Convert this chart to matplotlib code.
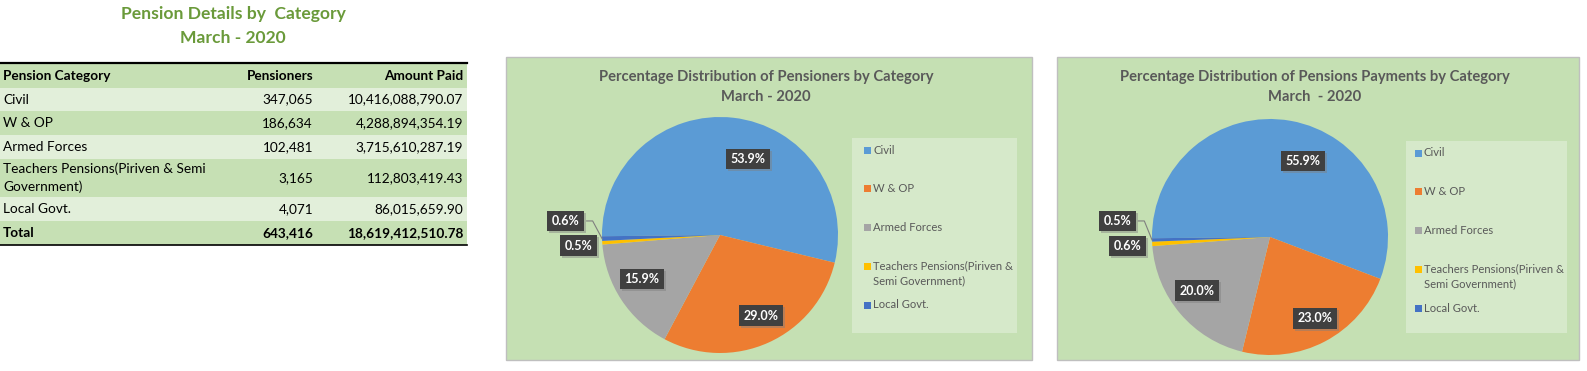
import matplotlib.pyplot as plt
from matplotlib.patches import Rectangle
import numpy as np

plt.rcParams['font.family'] = ['Lato', 'DejaVu Sans']

# data from the table
categories = ['Civil', 'W & OP', 'Armed Forces',
              'Teachers Pensions(Piriven & Semi Government)', 'Local Govt.']
pensioners = [347065, 186634, 102481, 3165, 4071]
amount_paid = [10416088790.07, 4288894354.19, 3715610287.19, 112803419.43, 86015659.90]
colors = ['#5B9BD5', '#ED7D31', '#A5A5A5', '#FFC000', '#4472C4']

W, H = 1587, 371
fig = plt.figure(figsize=(W / 100, H / 100), dpi=100)
ax = fig.add_axes([0, 0, 1, 1])


def Y(py):
    # pixel row (from top) -> data y
    return H - py


# ---------------- table ----------------
green_title = '#6A9A3A'
ax.text(233, Y(14), 'Pension Details by  Category', ha='center', va='center',
        fontsize=12.6, fontweight='bold', color=green_title)
ax.text(233, Y(38), 'March - 2020', ha='center', va='center',
        fontsize=12.6, fontweight='bold', color=green_title)

row_edges = [63, 88, 111, 135, 159, 197, 221, 245]
row_fill = ['#C6E0B4', '#E2EFDA', '#C6E0B4', '#E2EFDA', '#C6E0B4', '#E2EFDA', '#C6E0B4']
tab_right = 467
for i, fc in enumerate(row_fill):
    ax.add_patch(Rectangle((0, Y(row_edges[i + 1])), tab_right,
                           row_edges[i + 1] - row_edges[i], fc=fc, ec='none'))
ax.plot([0, tab_right], [Y(63), Y(63)], color='black', lw=1.6)
ax.plot([0, tab_right], [Y(245), Y(245)], color='black', lw=1.2)

fs_tab = 9.8
col_x = [3, 313, 463]
header = ['Pension Category', 'Pensioners', 'Amount Paid']
yc = Y((row_edges[0] + row_edges[1]) / 2)
ax.text(col_x[0], yc, header[0], ha='left', va='center', fontsize=fs_tab,
        fontweight='bold', color='black')
ax.text(col_x[1], yc, header[1], ha='right', va='center', fontsize=fs_tab,
        fontweight='bold', color='black')
ax.text(col_x[2], yc, header[2], ha='right', va='center', fontsize=fs_tab,
        fontweight='bold', color='black')

tab_names = ['Civil', 'W & OP', 'Armed Forces',
             'Teachers Pensions(Piriven & Semi\nGovernment)', 'Local Govt.']
for i, name in enumerate(tab_names):
    yc = Y((row_edges[i + 1] + row_edges[i + 2]) / 2)
    ax.text(col_x[0], yc, name, ha='left', va='center', fontsize=fs_tab,
            linespacing=1.55, color='black')
    ax.text(col_x[1], yc, f'{pensioners[i]:,}', ha='right', va='center',
            fontsize=fs_tab, color='black')
    ax.text(col_x[2], yc, f'{amount_paid[i]:,.2f}', ha='right', va='center',
            fontsize=fs_tab, color='black')

yc = Y((row_edges[6] + row_edges[7]) / 2)
ax.text(col_x[0], yc, 'Total', ha='left', va='center', fontsize=fs_tab,
        fontweight='bold', color='black')
ax.text(col_x[1], yc, f'{sum(pensioners):,}', ha='right', va='center',
        fontsize=fs_tab, fontweight='bold', color='black')
ax.text(col_x[2], yc, f'{sum(amount_paid):,.2f}', ha='right', va='center',
        fontsize=fs_tab, fontweight='bold', color='black')


# ---------------- pie charts ----------------
def pie_panel(values, box, title, center, radius, label_pos, leg_box, leg_x):
    x0, y0, x1, y1 = box
    ax.add_patch(Rectangle((x0, Y(y1)), x1 - x0, y1 - y0, fc='#C5E0B3',
                           ec='#BFBFBF', lw=1))
    ax.text((x0 + x1) / 2 - 3, Y(87), title, ha='center', va='center',
            fontsize=10.6, fontweight='bold', color='#595959', linespacing=1.5)

    cx, cy = center[0], Y(center[1])
    wedges, _ = ax.pie(values, colors=colors, startangle=180.6,
                       counterclock=False, center=(cx, cy), radius=radius,
                       frame=True, wedgeprops=dict(linewidth=0))

    total = sum(values)
    for i, v in enumerate(values):
        lx = cx + label_pos[i][0] * radius
        ly = cy + label_pos[i][1] * radius
        txt = f'{100 * v / total:.1f}%'
        ax.text(lx + 2, ly - 2, txt, ha='center', va='center', fontsize=9,
                fontweight='bold', color='none', zorder=4,
                bbox=dict(boxstyle='square,pad=0.35', fc='#7F7F7F', ec='none',
                          alpha=0.45))
        ax.text(lx, ly, txt, ha='center', va='center', fontsize=9,
                fontweight='bold', color='white', zorder=5,
                bbox=dict(boxstyle='square,pad=0.35', fc='#404040', ec='none'))

    # leader line for the last (smallest, top) slice
    w = wedges[-1]
    mid = np.deg2rad((w.theta1 + w.theta2) / 2)
    ex, ey = cx + radius * np.cos(mid), cy + radius * np.sin(mid)
    lx = cx + label_pos[-1][0] * radius + 21
    ly = cy + label_pos[-1][1] * radius
    ax.plot([lx, lx + 6, ex], [ly, ly, ey], color='#7F7F7F', lw=0.8, zorder=3)

    # legend
    lx0, ly0, lx1, ly1 = leg_box
    ax.add_patch(Rectangle((lx0, Y(ly1)), lx1 - lx0, ly1 - ly0, fc='#D6E9CA',
                           ec='none'))
    leg_labels = [['Civil'], ['W & OP'], ['Armed Forces'],
                  ['Teachers Pensions(Piriven &', 'Semi Government)'], ['Local Govt.']]
    for i, lines in enumerate(leg_labels):
        yy = ly0 + 12 + i * 38.75
        ax.add_patch(Rectangle((leg_x, Y(yy) - 3.5), 7, 7, fc=colors[i], ec='none'))
        for k, line in enumerate(lines):
            ax.text(leg_x + 9, Y(yy + 15 * k), line, ha='left', va='center',
                    fontsize=8.1, color='#595959')


pie_panel(pensioners, (506, 57, 1032, 360),
          'Percentage Distribution of Pensioners by Category\nMarch - 2020',
          (720, 235), 118,
          [(0.24, 0.644), (0.347, -0.684), (-0.664, -0.373), (-1.20, -0.091), (-1.308, 0.119)],
          (852, 138, 1017, 333), 864)

pie_panel(amount_paid, (1057, 57, 1579, 360),
          'Percentage Distribution of Pensions Payments by Category\nMarch  - 2020',
          (1270, 237), 118,
          [(0.282, 0.644), (0.381, -0.689), (-0.621, -0.455), (-1.209, -0.076), (-1.294, 0.136)],
          (1406, 141, 1567, 333), 1415)

ax.set_xlim(0, W)
ax.set_ylim(0, H)
ax.set_aspect('auto')
ax.axis('off')

plt.savefig('out.png', dpi=100)
